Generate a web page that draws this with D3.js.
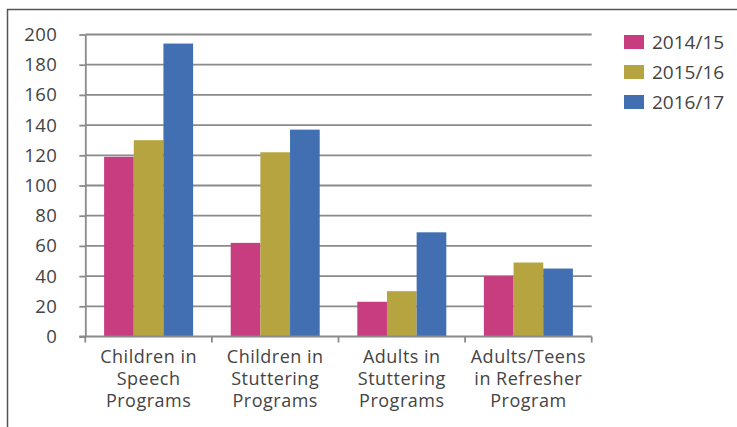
<!DOCTYPE html>
<html>
<head>
<meta charset="utf-8">
<script src="https://cdn.jsdelivr.net/npm/d3@7"></script>
<style>
  body { margin: 0; background: #fff; }
  svg { display: block; font-family: "Open Sans", sans-serif; }
</style>
</head>
<body>
<svg id="chart" width="737" height="427"></svg>
<script>
// Daten
const categories = [
  ["Children in", "Speech", "Programs"],
  ["Children in", "Stuttering", "Programs"],
  ["Adults in", "Stuttering", "Programs"],
  ["Adults/Teens", "in Refresher", "Program"]
];
const seriesNames = ["2014/15", "2015/16", "2016/17"];
const values2014 = [119, 62, 23, 40];
const values2015 = [130, 122, 30, 49];
const values2016 = [194, 137, 69, 45];
const yTicks = [0, 20, 40, 60, 80, 100, 120, 140, 160, 180, 200];
const colors = ["#c83c80", "#b5a43f", "#416fb1"];

const allValues = [values2014, values2015, values2016];
const svg = d3.select("#chart");

// Rahmen
svg.append("rect")
  .attr("x", 7.5).attr("y", 9.5)
  .attr("width", 760).attr("height", 440)
  .attr("fill", "none").attr("stroke", "#555").attr("stroke-width", 1.5);

const plotLeft = 85.3, plotRight = 591.7, plotTop = 34.5, plotBottom = 336.5;

const x0 = d3.scaleBand()
  .domain(d3.range(categories.length))
  .range([plotLeft, plotRight]);

const x1 = d3.scaleBand()
  .domain(d3.range(seriesNames.length))
  .range([18.8, 18.8 + 89]);

const y = d3.scaleLinear().domain([0, 200]).range([plotBottom, plotTop]);

// Gitterlinien
svg.append("g")
  .selectAll("line")
  .data(yTicks.filter(d => d > 0))
  .enter()
  .append("line")
  .attr("x1", plotLeft).attr("x2", plotRight)
  .attr("y1", d => y(d)).attr("y2", d => y(d))
  .attr("stroke", "#8a8a8a").attr("stroke-width", 1.8);

// Balken
const groups = svg.append("g")
  .selectAll("g")
  .data(categories.map((c, i) => i))
  .enter()
  .append("g")
  .attr("transform", i => `translate(${x0(i)},0)`);

groups.selectAll("rect")
  .data(i => allValues.map((v, s) => ({ s: s, v: v[i] })))
  .enter()
  .append("rect")
  .attr("x", d => x1(d.s))
  .attr("width", x1.bandwidth())
  .attr("y", d => y(d.v))
  .attr("height", d => y(0) - y(d.v))
  .attr("fill", d => colors[d.s]);

// Y-Achse
const yAxis = svg.append("g")
  .attr("transform", `translate(${plotLeft},0)`)
  .call(d3.axisLeft(y).tickValues(yTicks).tickSize(6).tickPadding(22).tickSizeOuter(0));
yAxis.select(".domain").attr("stroke", "#8a8a8a").attr("stroke-width", 1.8);
yAxis.selectAll(".tick line").attr("stroke", "#8a8a8a").attr("stroke-width", 1.8);
yAxis.selectAll("text")
  .attr("font-size", 18.5).attr("fill", "#444")
  .attr("letter-spacing", 0.4)
  .attr("font-family", "Open Sans, sans-serif");

// X-Achse
const xAxis = svg.append("g")
  .attr("transform", `translate(0,${plotBottom})`);
xAxis.append("line")
  .attr("x1", plotLeft - 6).attr("x2", plotRight)
  .attr("stroke", "#8a8a8a").attr("stroke-width", 1.8);
xAxis.selectAll("line.tk")
  .data(d3.range(categories.length + 1))
  .enter()
  .append("line")
  .attr("class", "tk")
  .attr("x1", i => i < categories.length ? x0(i) : plotRight)
  .attr("x2", i => i < categories.length ? x0(i) : plotRight)
  .attr("y1", 0).attr("y2", 6)
  .attr("stroke", "#8a8a8a").attr("stroke-width", 1.8);

const labels = xAxis.selectAll("text")
  .data(categories)
  .enter()
  .append("text")
  .attr("x", (d, i) => x0(i) + x0.bandwidth() / 2)
  .attr("y", 0)
  .attr("text-anchor", "middle")
  .attr("font-size", 18)
  .attr("letter-spacing", 0.5)
  .attr("fill", "#444");
labels.selectAll("tspan")
  .data(d => d)
  .enter()
  .append("tspan")
  .attr("x", function () { return d3.select(this.parentNode).attr("x"); })
  .attr("y", (d, j) => 26 + j * 22.3)
  .text(d => d);

// Legende
const legend = svg.append("g")
  .selectAll("g")
  .data(seriesNames)
  .enter()
  .append("g")
  .attr("transform", (d, i) => `translate(624,${35 + i * 30})`);
legend.append("rect")
  .attr("width", 20).attr("height", 14)
  .attr("fill", (d, i) => colors[i]);
legend.append("text")
  .attr("x", 28).attr("y", 14)
  .attr("font-size", 19)
  .attr("fill", "#444")
  .text(d => d);
</script>
</body>
</html>
